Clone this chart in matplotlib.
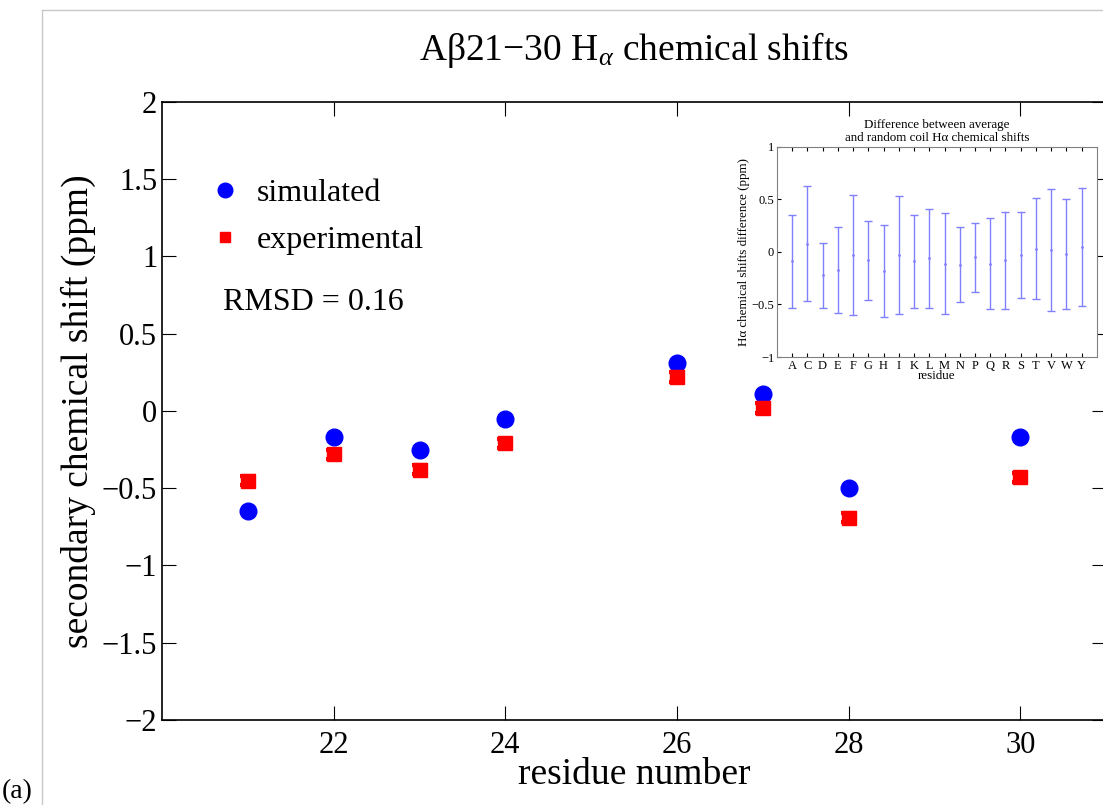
import numpy as np
import matplotlib.pyplot as plt
from matplotlib.lines import Line2D

plt.rcParams['font.family'] = ['Liberation Serif', 'DejaVu Serif']
plt.rcParams['mathtext.fontset'] = 'custom'
plt.rcParams['mathtext.rm'] = 'Liberation Serif'
plt.rcParams['mathtext.it'] = 'Liberation Serif:italic'

#%% main data
residues = [21, 22, 23, 24, 26, 27, 28, 30]
simulated = [-0.65, -0.17, -0.25, -0.05, 0.31, 0.11, -0.50, -0.17]
experimental = [-0.45, -0.28, -0.38, -0.21, 0.22, 0.02, -0.69, -0.43]
exp_err = [0.03, 0.03, 0.03, 0.03, 0.03, 0.03, 0.03, 0.03]

#%% inset data
aa = ['A', 'C', 'D', 'E', 'F', 'G', 'H', 'I', 'K', 'L',
      'M', 'N', 'P', 'Q', 'R', 'S', 'T', 'V', 'W', 'Y']
aa_mean = [-0.09, 0.08, -0.22, -0.17, -0.03, -0.08, -0.18, -0.03, -0.09, -0.06,
           -0.11, -0.12, -0.05, -0.11, -0.08, -0.03, 0.03, 0.02, -0.02, 0.05]
aa_std = [0.44, 0.55, 0.31, 0.41, 0.57, 0.375, 0.44, 0.56, 0.44, 0.47,
          0.48, 0.36, 0.33, 0.43, 0.46, 0.41, 0.48, 0.58, 0.52, 0.56]

#%%
fig = plt.figure(figsize=(11.03, 8.05), dpi=100)
ax = fig.add_axes([0.1469, 0.1056, 0.856, 0.7677])

ax.plot(residues, simulated, 'o', color='blue', markersize=12)
ax.errorbar(residues, experimental, yerr=exp_err, fmt='s', color='red',
            markersize=10, capsize=6, elinewidth=2, capthick=3)

ax.set_xlim(20, 31)
ax.set_ylim(-2, 2)
ax.set_xticks([22, 24, 26, 28, 30])
ax.set_yticks(np.arange(-2, 2.01, 0.5))
ax.set_yticklabels(['\u22122', '\u22121.5', '\u22121', '\u22120.5', '0', '0.5', '1', '1.5', '2'])
ax.tick_params(direction='in', top=True, right=True, labelsize=22, length=10, width=0.8)
ax.tick_params(axis='x', pad=8)
for s in ax.spines.values():
    s.set_linewidth(1.2)

ax.set_title('A\u03b221\u221230 H$_{\\alpha}$ chemical shifts', fontsize=27, pad=30)
ax.set_xlabel('residue number', fontsize=27, labelpad=-2)
ax.set_ylabel('secondary chemical shift (ppm)', fontsize=27, labelpad=4)

handles = [Line2D([], [], ls='none', marker='o', color='blue', markersize=10.5),
           Line2D([], [], ls='none', marker='s', color='red', markersize=7.5)]
ax.legend(handles, ['simulated', 'experimental'], loc='upper left',
          bbox_to_anchor=(0.016, 0.923), frameon=False, fontsize=23,
          handletextpad=0.4, labelspacing=0.57, handlelength=1.2)
ax.text(0.065, 0.664, 'RMSD = 0.16', transform=ax.transAxes, fontsize=23)

fig.text(0.002, 0.001, '(a)', fontsize=20, va='bottom')

# grey frame lines from the original screenshot
fig.add_artist(Line2D([0.038, 0.038], [0.0, 0.988], color='#c8c8c8', lw=1))
fig.add_artist(Line2D([0.038, 1.0], [0.988, 0.988], color='#c8c8c8', lw=1))

#%% inset
ins = fig.add_axes([0.7044, 0.5565, 0.290, 0.261])
x = np.arange(1, len(aa) + 1)
ins.errorbar(x, aa_mean, yerr=aa_std, fmt='.', color='#8080ff', markersize=2,
             capsize=3, elinewidth=1, capthick=1)
ins.set_xlim(0, 21)
ins.set_ylim(-1, 1)
ins.set_xticks(x)
ins.set_xticklabels(aa)
ins.set_yticks([-1, -0.5, 0, 0.5, 1])
ins.set_yticklabels(['\u22121', '\u22120.5', '0', '0.5', '1'])
ins.tick_params(direction='in', top=True, right=False, labelsize=9, length=3, pad=2)
for s in ins.spines.values():
    s.set_color('#808080')
ins.set_title('Difference between average\nand random coil H\u03b1 chemical shifts', fontsize=9.4, pad=4)
ins.set_xlabel('residue', fontsize=9.4, labelpad=-1)
ins.set_ylabel('H\u03b1 chemical shifts difference (ppm)', fontsize=9.4, labelpad=1)

plt.savefig('out.png', dpi=100)
